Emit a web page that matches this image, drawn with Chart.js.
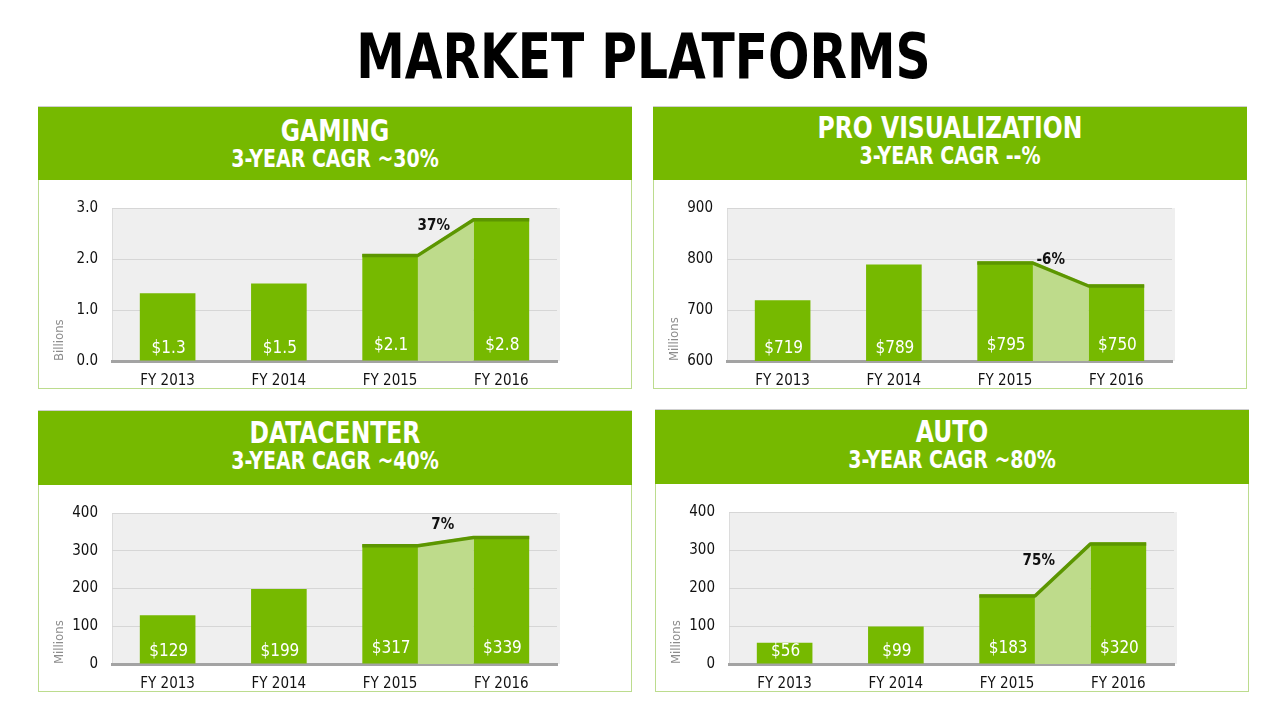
<!DOCTYPE html>
<html>
<head>
<meta charset="utf-8">
<title>Market Platforms</title>
<script src="https://cdn.jsdelivr.net/npm/chart.js@4.4.1/dist/chart.umd.min.js"></script>
<style>
    html, body { margin: 0; padding: 0; background: #fff; }
    body { width: 1280px; height: 719px; position: relative; overflow: hidden; }
    h1 {
        position: absolute; left: 0; width: 1287px; top: 20px; margin: 0;
        text-align: center; font: bold 63px "DejaVu Sans Condensed", "DejaVu Sans", sans-serif;
        color: #000; transform: scaleX(0.86); transform-origin: 643px 0;
    }
    .panel { position: absolute; }
    .head {
        position: absolute; left: 0; right: 0; top: 0; background: #76b900;
        border-top: 1px solid #cfcfcf; box-sizing: border-box; color: #fff; text-align: center;
        font-family: "DejaVu Sans Condensed", "DejaVu Sans", sans-serif; font-weight: bold;
    }
    .head .t1 { position: absolute; left: 0; right: 0; font-size: 30px; line-height: 34px; transform: scaleX(0.87); }
    .head .t2 { position: absolute; left: 0; right: 0; font-size: 24px; line-height: 28px; transform: scaleX(0.88); }
    .frame {
        position: absolute; left: 0; right: 0; bottom: 0; box-sizing: border-box;
        border: 1px solid #bcdc8e; border-top: none;
    }
    canvas { position: absolute; left: 0; }
</style>
</head>
<body>
<h1>MARKET PLATFORMS</h1>
<div id="panels"></div>

<script>
(function () {
    "use strict";

    // ============================
    // Data
    // ============================
    const years = ["FY 2013", "FY 2014", "FY 2015", "FY 2016"];

    const gamingValues = [1.33, 1.52, 2.1, 2.8];
    const proVizValues = [719, 789, 795, 750];
    const datacenterValues = [129, 199, 317, 339];
    const autoValues = [56, 99, 183, 320];

    const panelTitles = ["GAMING", "PRO VISUALIZATION", "DATACENTER", "AUTO"];
    const panelSubtitles = ["3-YEAR CAGR ~30%", "3-YEAR CAGR --%", "3-YEAR CAGR ~40%", "3-YEAR CAGR ~80%"];
    const growthLabels = ["37%", "-6%", "7%", "75%"];
    const unitLabels = ["Billions", "Millions", "Millions", "Millions"];

    // y axis ranges: [min, max, step]
    const gamingTicks = [0, 3, 1];
    const proVizTicks = [600, 900, 100];
    const datacenterTicks = [0, 400, 100];
    const autoTicks = [0, 400, 100];

    // ============================
    // Style / layout
    // ============================
    const GREEN = "#76b900";
    const LIGHT_GREEN = "#bedb8b";
    const DARK_GREEN = "#5c9600";
    const FONT = "'DejaVu Sans Condensed', 'DejaVu Sans', sans-serif";

    // box = [left, top, width, height]; growthOffset = label shift from connector middle
    const panels = [
        { values: gamingValues, ticks: gamingTicks, decimals: 1, box: [38, 106, 594, 283], head: 74, textTop: 7, growthOffset: [-12, -10] },
        { values: proVizValues, ticks: proVizTicks, decimals: 0, box: [653, 106, 594, 283], head: 74, textTop: 4, growthOffset: [-10, -13] },
        { values: datacenterValues, ticks: datacenterTicks, decimals: 0, box: [38, 410, 594, 282], head: 75, textTop: 5, growthOffset: [-3, -15] },
        { values: autoValues, ticks: autoTicks, decimals: 0, box: [655, 409, 594, 283], head: 75, textTop: 5, growthOffset: [-24, -7] },
    ];

    // gray plot background, connector between the last two bars, labels
    const panelPlugin = {
        id: "panelDecor",
        beforeDraw(chart) {
            const a = chart.chartArea;
            const ctx = chart.ctx;
            ctx.save();
            ctx.fillStyle = "#efefef";
            ctx.fillRect(a.left, a.top, a.right - a.left + 3, a.bottom - a.top);
            ctx.strokeStyle = "#dcdcdc";
            ctx.lineWidth = 1;
            ctx.beginPath();
            ctx.moveTo(a.left + 0.5, a.bottom);
            ctx.lineTo(a.left + 0.5, a.top);
            ctx.stroke();
            ctx.restore();
        },
        afterDatasetsDraw(chart, args, opts) {
            const ctx = chart.ctx;
            const bottom = chart.chartArea.bottom;
            const bars = chart.getDatasetMeta(0).data;
            const b2 = bars[2];
            const b3 = bars[3];
            const x1 = b2.x + b2.width / 2;
            const x2 = b3.x - b3.width / 2;

            ctx.save();
            // connector area
            ctx.fillStyle = LIGHT_GREEN;
            ctx.beginPath();
            ctx.moveTo(x1, bottom);
            ctx.lineTo(x1, b2.y);
            ctx.lineTo(x2, b3.y);
            ctx.lineTo(x2, bottom);
            ctx.closePath();
            ctx.fill();

            // dark top line
            ctx.strokeStyle = DARK_GREEN;
            ctx.lineWidth = 3.5;
            ctx.lineJoin = "round";
            ctx.beginPath();
            ctx.moveTo(b2.x - b2.width / 2, b2.y + 1.5);
            ctx.lineTo(x1, b2.y + 1.5);
            ctx.lineTo(x2, b3.y + 1.5);
            ctx.lineTo(b3.x + b3.width / 2, b3.y + 1.5);
            ctx.stroke();

            // value labels
            ctx.fillStyle = "#fff";
            ctx.font = "17px " + FONT;
            ctx.textAlign = "center";
            ctx.textBaseline = "middle";
            const vals = chart.data.datasets[0].data;
            bars.forEach((b, i) => {
                const txt = "$" + vals[i].toFixed(opts.decimals);
                ctx.fillText(txt, b.x + 1, bottom - (i >= 2 ? 15 : 12));
            });

            // growth label
            ctx.fillStyle = "#111";
            ctx.font = "bold 15px " + FONT;
            const mx = (x1 + x2) / 2;
            const my = (b2.y + b3.y) / 2;
            ctx.fillText(opts.growth, mx + opts.offset[0], my + opts.offset[1]);
            ctx.restore();
        },
    };

    function buildPanel(p, idx) {
        const [left, top, width, height] = p.box;
        const el = document.createElement("div");
        el.className = "panel";
        el.style.cssText = `left:${left}px;top:${top}px;width:${width}px;height:${height}px`;
        el.innerHTML = `
            <div class="frame" style="top:${p.head}px"></div>
            <div class="head" style="height:${p.head}px">
                <div class="t1" style="top:${p.textTop}px">${panelTitles[idx]}</div>
                <div class="t2" style="top:${p.textTop + 31}px">${panelSubtitles[idx]}</div>
            </div>`;
        const canvas = document.createElement("canvas");
        canvas.width = width;
        canvas.height = height - p.head;
        canvas.style.top = p.head + "px";
        el.appendChild(canvas);
        document.getElementById("panels").appendChild(el);

        const [yMin, yMax, yStep] = p.ticks;

        new Chart(canvas, {
            type: "bar",
            data: {
                labels: years,
                datasets: [
                    {
                        data: p.values,
                        backgroundColor: GREEN,
                        barPercentage: 1,
                        categoryPercentage: 0.5,
                    },
                ],
            },
            options: {
                responsive: false,
                animation: false,
                devicePixelRatio: 1,
                layout: { padding: { left: 14, right: 75, top: 28, bottom: 0 } },
                plugins: {
                    legend: { display: false },
                    tooltip: { enabled: false },
                    panelDecor: { decimals: p.decimals, growth: growthLabels[idx], offset: p.growthOffset },
                },
                scales: {
                    x: {
                        grid: { display: false },
                        border: { display: true, color: "#a3a3a3", width: 3 },
                        ticks: { color: "#111", font: { family: FONT, size: 15 }, padding: 3 },
                        afterFit: (s) => { s.height = 28; },
                    },
                    y: {
                        min: yMin,
                        max: yMax,
                        ticks: {
                            stepSize: yStep,
                            color: "#111",
                            font: { family: FONT, size: 15 },
                            padding: 14,
                            callback: (v) => (p.decimals ? Number(v).toFixed(1) : v),
                        },
                        grid: { color: "#d6d6d6", drawTicks: false },
                        border: { display: false },
                        title: {
                            display: true,
                            text: unitLabels[idx],
                            align: "start",
                            color: "#8c8c8c",
                            font: { family: FONT, size: 13 },
                            padding: 0,
                        },
                        afterFit: (s) => { s.width = 60; },
                    },
                },
            },
            plugins: [panelPlugin],
        });
    }

    panels.forEach(buildPanel);
})();
</script>
</body>
</html>
